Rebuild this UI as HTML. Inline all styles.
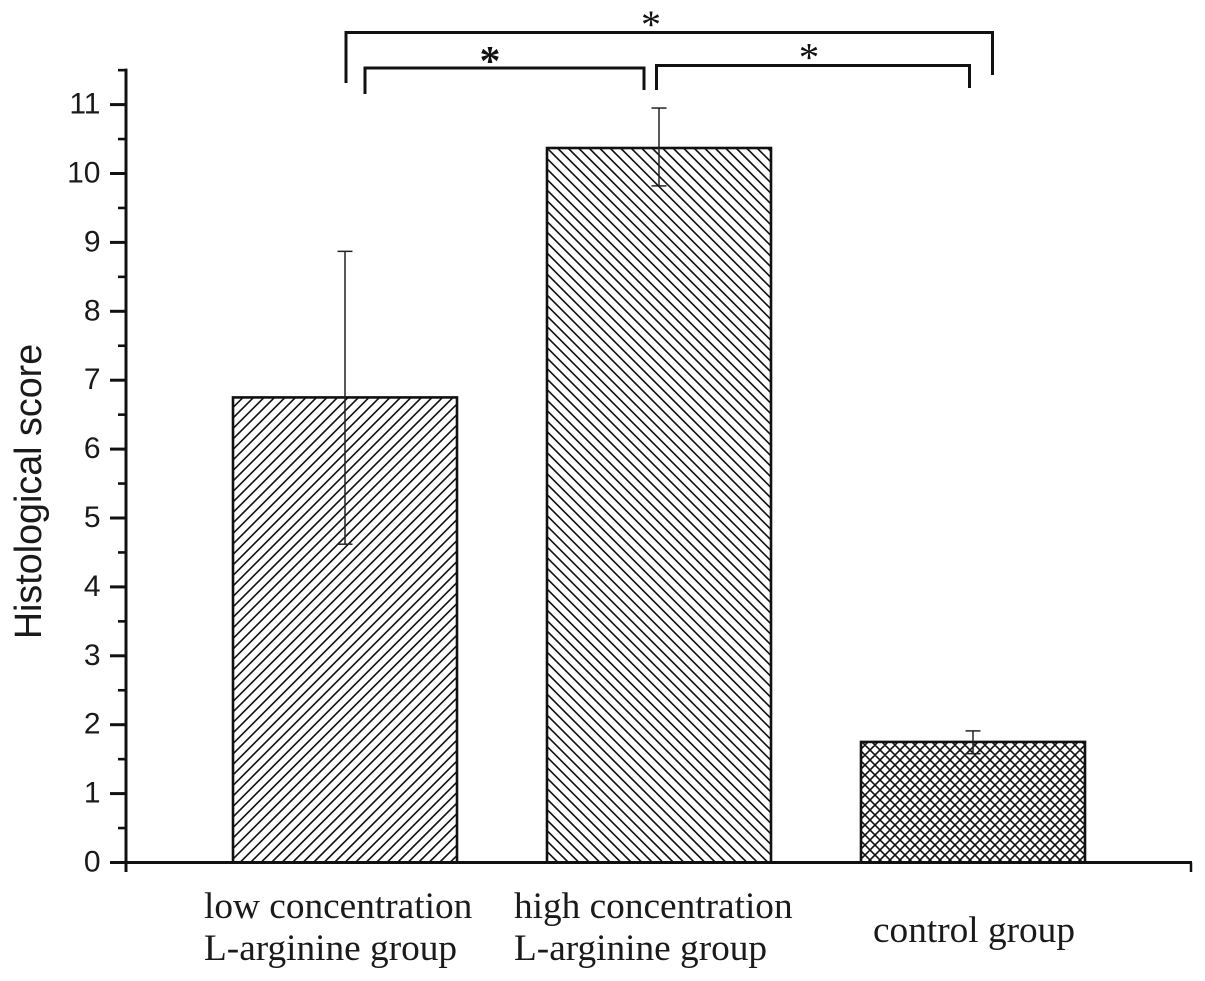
<!DOCTYPE html>
<html lang="en">
<head>
<meta charset="utf-8">
<title>Histological score by group</title>
<style>
html,body{margin:0;padding:0;background:#fff;width:1205px;height:981px;overflow:hidden}
svg{display:block}
.tick{font:30px "Liberation Sans",sans-serif;fill:#1a1a1a}
.cat{font:37.3px "Liberation Serif",serif;fill:#1a1a1a}
.ytitle{font:37.7px "Liberation Sans",sans-serif;fill:#1a1a1a}
</style>
</head>
<body>
<svg id="chart" width="1205" height="981" viewBox="0 0 1205 981" xmlns="http://www.w3.org/2000/svg">
<defs id="defs"></defs>
<text class="ytitle" transform="translate(41,491.500) rotate(-90)" text-anchor="middle">Histological score</text>
<g id="plot"></g>
<g fill="none" stroke="#111" stroke-width="3">
<path d="M346 83V32.500H992.500V75"/>
<path d="M365 94V68H644V90"/>
<path d="M656.500 90V65.500H969.500V88"/>
</g>
<text x="651" y="38" text-anchor="middle" style="font:40px 'Liberation Serif',serif" fill="#111">*</text>
<text x="490" y="75" text-anchor="middle" style="font:bold 42px 'Liberation Serif',serif" fill="#111">*</text>
<text x="809" y="71" text-anchor="middle" style="font:41px 'Liberation Serif',serif" fill="#111">*</text>
<text class="cat" x="204" y="918">low concentration</text>
<text class="cat" x="204" y="960">L-arginine group</text>
<text class="cat" x="514" y="918">high concentration</text>
<text class="cat" x="514" y="960">L-arginine group</text>
<text class="cat" x="873" y="942">control group</text>
</svg>
<script>
const categories = ['low', 'high', 'control'];
const means = [6.75, 10.37, 1.75];
const errorUpper = [8.87, 10.95, 1.91];
const errorLower = [4.62, 9.82, 1.58];
const yTickLabels = [0, 1, 2, 3, 4, 5, 6, 7, 8, 9, 10, 11];
const yMinorTicks = [0.5, 1.5, 2.5, 3.5, 4.5, 5.5, 6.5, 7.5, 8.5, 9.5, 10.5, 11.5];
const hatchKinds = ['up', 'down', 'cross'];

const NS = 'http://www.w3.org/2000/svg';
const plot = document.getElementById('plot');
const defs = document.getElementById('defs');
const yScale = v => 862.5 - v * 68.9;
const xScale = i => 345 + i * 314;
const barWidth = 224;
const hatchGap = 10.5;
const crossGap = 10;
const INK = '#111';

function mk(tag, attrs, parent) {
  const el = document.createElementNS(NS, tag);
  for (const k in attrs) el.setAttribute(k, attrs[k]);
  (parent || plot).appendChild(el);
  return el;
}

function upLines(x0, y0, x1, y1, gap) {
  let d = '';
  for (let c = Math.floor((x0 + y0) / gap) * gap; c <= x1 + y1; c += gap) {
    d += 'M' + (c - y1) + ' ' + y1 + 'L' + (c - y0) + ' ' + y0;
  }
  return d;
}

function downLines(x0, y0, x1, y1, gap) {
  let d = '';
  for (let c = Math.floor((x0 - y1) / gap) * gap; c <= x1 - y0; c += gap) {
    d += 'M' + (c + y0) + ' ' + y0 + 'L' + (c + y1) + ' ' + y1;
  }
  return d;
}

categories.forEach((c, i) => {
  const cx = xScale(i);
  const top = yScale(means[i]);
  const x0 = cx - barWidth / 2;
  const x1 = cx + barWidth / 2;
  const y1 = yScale(0);
  const clip = mk('clipPath', {id: 'clip-' + c}, defs);
  mk('rect', {x: x0, y: top, width: barWidth, height: y1 - top}, clip);
  let d = '';
  if (hatchKinds[i] === 'up') d = upLines(x0, top, x1, y1, hatchGap);
  if (hatchKinds[i] === 'down') d = downLines(x0, top, x1, y1, hatchGap);
  if (hatchKinds[i] === 'cross') d = upLines(x0, top, x1, y1, crossGap) + downLines(x0, top, x1, y1, crossGap);
  const hatch = mk('path', {d: d, fill: 'none', stroke: INK, 'stroke-width': 1.6, 'clip-path': 'url(#clip-' + c + ')'});
  
  
  const bar = mk('rect', {x: x0, y: top, width: barWidth, height: y1 - top, fill: 'none', stroke: INK, 'stroke-width': 2.6});
  
  
  const stem = mk('line', {x1: cx, x2: cx, y1: yScale(errorUpper[i]), y2: yScale(errorLower[i]), stroke: '#222', 'stroke-width': 1.5});
  
  
  [errorUpper[i], errorLower[i]].forEach((v, j) => {
    const cap = mk('line', {x1: cx - 7.5, x2: cx + 7.5, y1: yScale(v), y2: yScale(v), stroke: '#222', 'stroke-width': 1.5});
    
    
  });
});

const yAxis = mk('line', {x1: 126, x2: 126, y1: yScale(11.5) - 1.5, y2: 872, stroke: INK, 'stroke-width': 3});


const xAxis = mk('line', {x1: 110, x2: 1192, y1: yScale(0), y2: yScale(0), stroke: INK, 'stroke-width': 3});


const xEnd = mk('line', {x1: 1191, x2: 1191, y1: yScale(0), y2: 872, stroke: INK, 'stroke-width': 2.5});



yTickLabels.forEach(v => {
  const t = mk('line', {x1: 110, x2: 126, y1: yScale(v), y2: yScale(v), stroke: INK, 'stroke-width': 3});
  
  
  const l = mk('text', {x: 100.5, y: yScale(v) + 9, 'text-anchor': 'end', class: 'tick'});
  
  
  l.textContent = v;
});
yMinorTicks.forEach(v => {
  const t = mk('line', {x1: 118, x2: 126, y1: yScale(v), y2: yScale(v), stroke: INK, 'stroke-width': 2.6});
  
  
});
</script>
</body>
</html>
